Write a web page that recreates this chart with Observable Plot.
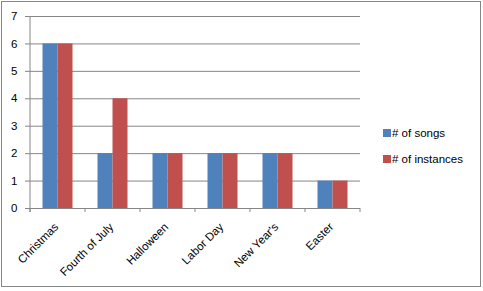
<!DOCTYPE html>
<html>
<head>
<meta charset="utf-8">
<script src="https://cdn.jsdelivr.net/npm/d3@7"></script>
<script src="https://cdn.jsdelivr.net/npm/@observablehq/plot@0.6"></script>
<style>
  html, body { margin: 0; padding: 0; background: #fff; }
  #wrap { position: relative; width: 483px; height: 291px; font-family: "Liberation Sans", Arial, sans-serif; }
  .legend { position: absolute; left: 383px; font-size: 11.5px; color: #000; display: flex; align-items: center; white-space: nowrap; }
  .legend span.sw { display: inline-block; width: 8px; height: 8px; margin-right: 1px; }
</style>
</head>
<body>
<div id="wrap"></div>
<script>
const categories = ["Christmas", "Fourth of July", "Halloween", "Labor Day", "New Year's", "Easter"];
const seriesNames = ["# of songs", "# of instances"];
const songs = [6, 2, 2, 2, 2, 1];
const instances = [6, 4, 2, 2, 2, 1];
const yTicks = [0, 1, 2, 3, 4, 5, 6, 7];
const colors = ["#4F81BD", "#C0504D"];

const data = [];
categories.forEach((c, i) => {
  data.push({cat: c, series: seriesNames[0], value: songs[i]});
  data.push({cat: c, series: seriesNames[1], value: instances[i]});
});

const gray = "#868686";
const plot = Plot.plot({
  width: 483,
  height: 291,
  marginLeft: 28.5,
  marginRight: 121.5,
  marginTop: 16,
  marginBottom: 83,
  style: {fontFamily: "'Liberation Sans', Arial, sans-serif", fontSize: "11.5px", color: "#000", background: "#fff"},
  fx: {domain: categories, padding: 0, label: null, axis: null},
  x: {domain: seriesNames, paddingInner: 0, paddingOuter: 0.79, axis: null},
  y: {domain: [0, 7], label: null},
  color: {domain: seriesNames, range: colors},
  marks: [
    Plot.gridY(yTicks, {stroke: gray, strokeOpacity: 1}),
    Plot.barY(data, {fx: "cat", x: "series", y: "value", fill: "series"}),
    Plot.ruleY([0], {stroke: gray}),
    Plot.axisY(yTicks, {tickSize: 5, tickPadding: 8, stroke: gray, fill: "#000", label: null, tickFormat: d3.format("d")}),
    Plot.text(categories, {fx: d => d, text: d => d, frameAnchor: "bottom", dx: -1.5, dy: 16.5, rotate: -45,
      textAnchor: "end", lineAnchor: "middle", fill: "#000", fontSize: 11.5})
  ]
});

const svg = d3.select(plot);
const fx = plot.scale("fx");
const y = plot.scale("y");
const bw = fx.bandwidth;
const bounds = categories.map(c => fx.apply(c)).concat([fx.apply(categories[categories.length - 1]) + bw]);
const y0 = y.apply(0), y7 = y.apply(7);
svg.append("line").attr("x1", bounds[0]).attr("x2", bounds[0]).attr("y1", y7).attr("y2", y0 + 4).attr("stroke", gray);
bounds.forEach(b => {
  svg.append("line").attr("x1", b).attr("x2", b).attr("y1", y0).attr("y2", y0 + 4).attr("stroke", gray);
});
svg.append("rect").attr("x", 1.5).attr("y", 1.5).attr("width", 479).attr("height", 285)
  .attr("fill", "none").attr("stroke", gray);

const wrap = document.getElementById("wrap");
wrap.appendChild(plot);
const legendTops = [127, 153];
seriesNames.forEach((s, i) => {
  const div = document.createElement("div");
  div.className = "legend";
  div.style.top = legendTops[i] + "px";
  div.innerHTML = `<span class="sw" style="background:${colors[i]}"></span><span></span>`;
  div.lastChild.textContent = s;
  wrap.appendChild(div);
});
</script>
</body>
</html>
